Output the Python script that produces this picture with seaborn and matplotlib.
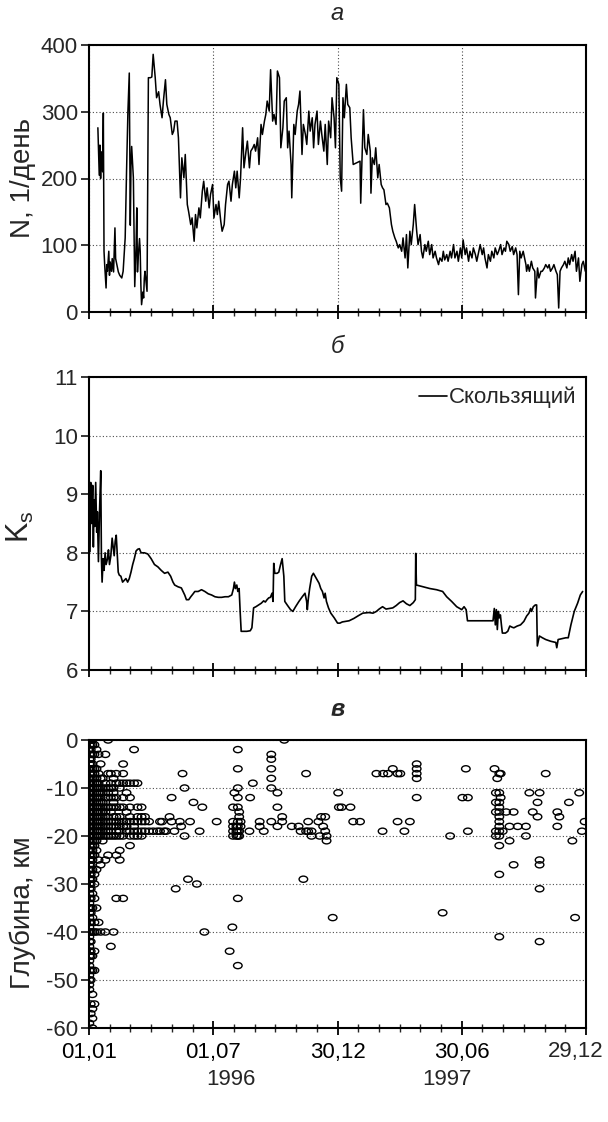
import numpy as np
import pandas as pd
import matplotlib
matplotlib.use("Agg")
import matplotlib.pyplot as plt
import seaborn as sns
from matplotlib.path import Path
from matplotlib.ticker import FixedLocator, FixedFormatter
from matplotlib.transforms import blended_transform_factory, ScaledTranslation

# ---------------- data ----------------
# panel a: daily number of events N (day from 01.01.1996)
n_day = [13, 15, 16, 17, 18, 20, 21, 22, 23, 25, 26, 27, 29, 30, 31, 33, 34, 36, 38, 39,
         41, 43, 45, 48, 50, 53, 55, 57, 59, 60.5, 61.5, 62.5, 65, 66, 67, 69, 70, 71, 72, 74,
         75, 76, 77, 79, 80, 81, 82, 84, 85, 86, 87, 90, 92, 94, 97, 99, 102, 104, 107, 109,
         112, 114, 117, 119, 122, 124, 126, 129, 131, 134, 136, 139, 141, 144, 146, 149, 151, 154, 156, 158,
         161, 163, 166, 168, 171, 173, 176, 178, 181, 183, 186, 188, 190, 193, 195, 198, 200, 203, 205, 208,
         210, 213, 215, 217, 220, 222, 225, 227, 230, 232, 235, 237, 240,
         242, 244, 247, 249, 252, 254, 257, 259, 261, 264, 266, 269, 271, 274, 276, 279, 281, 284, 286, 289,
         291, 293, 296, 297, 300, 302, 305, 307, 309, 312, 314, 317, 319, 322, 324, 327, 329, 331, 334, 336,
         339, 341, 344, 346, 349, 351, 354, 356, 359, 361, 363, 366, 368, 370, 372, 374, 377, 379, 382, 384,
         387, 397, 398, 402, 404, 407, 409, 412, 413, 415, 418, 420, 423, 425, 428, 430, 432, 435, 437, 440,
         443, 445, 448, 450, 453, 455, 458, 460, 463, 465, 467, 470, 472, 475, 477, 480, 482, 485,
         487, 489, 492, 494, 497, 499, 502, 504, 507, 509, 512, 514, 517, 519, 521, 524, 526, 529, 531, 534,
         536, 539, 541, 544, 546, 548, 551, 553, 556, 558, 561, 563, 566, 568, 571, 573, 576, 578, 580, 583,
         585, 588, 590, 593, 595, 598, 600, 603, 605, 608, 610, 612, 615, 617, 620, 622, 625, 627, 629, 631,
         633, 636, 638, 640, 641, 643, 645, 648, 650, 653, 654, 657, 659, 662, 664, 667, 669, 672, 674, 676,
         679, 681, 684, 686, 688, 690, 692, 695, 697, 700, 702, 704, 707, 709, 712, 714, 717, 719, 722, 724, 727]
n_val = [276, 205, 250, 200, 240, 210, 298, 91, 70, 36, 71, 61, 91, 55, 75, 61, 80, 60, 126, 80,
         70, 60, 55, 51, 61, 111, 211, 300, 358, 130, 220, 248, 201, 120, 38, 100, 156, 60, 81, 110,
         91, 40, 11, 30, 21, 50, 61, 40, 31, 200, 351, 351, 352, 386, 351, 321, 330, 311, 291, 316,
         348, 311, 296, 291, 266, 271, 286, 286, 261, 171, 231, 201, 236, 161, 150, 131, 141, 106, 146, 126,
         156, 141, 181, 196, 166, 186, 156, 176, 191, 141, 161, 146, 166, 136, 121, 131, 161, 191, 196, 166,
         191, 211, 186, 211, 171, 201, 276, 216, 241, 256, 216, 241, 246,
         251, 241, 261, 221, 281, 266, 286, 296, 316, 301, 363, 286, 296, 281, 361, 351, 246, 276, 316, 321,
         246, 271, 221, 171, 281, 266, 301, 311, 331, 236, 281, 266, 251, 301, 271, 291, 246, 281, 301, 251,
         286, 266, 241, 281, 221, 286, 261, 321, 291, 246, 351, 341, 201, 181, 321, 291, 341, 311, 306, 261,
         221, 226, 163, 303, 246, 236, 266, 241, 178, 231, 221, 246, 201, 221, 191, 186, 183, 161, 163, 156,
         131, 121, 111, 106, 96, 101, 91, 111, 81, 116, 66, 121, 101, 131, 161, 121, 101, 116,
         91, 81, 101, 91, 106, 86, 101, 81, 91, 81, 71, 81, 76, 91, 78, 86, 76, 91, 81, 101,
         81, 91, 76, 96, 81, 108, 86, 96, 76, 91, 81, 96, 86, 76, 91, 101, 86, 96, 81, 66,
         86, 76, 91, 81, 96, 86, 91, 101, 86, 96, 91, 106, 101, 91, 98, 86, 96, 86, 26, 91,
         81, 91, 81, 71, 61, 71, 61, 76, 66, 61, 21, 66, 51, 61, 61, 66, 71, 66, 71, 61,
         66, 71, 61, 56, 6, 61, 66, 71, 76, 66, 81, 71, 86, 76, 91, 61, 81, 46, 71, 76, 61]

# panel b: sliding K_s
ks_day = [1.5, 2.5, 3.9, 5.4, 6.4, 7.4, 8.4, 9.8, 11.3, 12.3,
          13.8, 15.3, 17.2, 18.2, 19.2, 20.7, 22.1, 23.6, 25.1, 27.1,
          28.5, 30.0, 32.0, 33.9, 35.4, 36.9, 38.4, 39.9, 41.3, 42.8,
          44.3, 46.7, 49.2, 51.7, 54.1, 56.6, 59.0, 61.5, 64.0, 66.4,
          68.9, 71.3, 73.8, 76.3, 81.2, 86.1, 91.0, 95.9, 100.9, 105.8,
          110.7, 115.6, 119.6, 123.0, 125.5, 130.4, 135.3, 137.8, 140.2, 142.7,
          146.1, 149.1, 152.5, 155.0, 159.9, 164.8, 169.7, 174.7, 179.6, 184.5,
          189.4, 194.3, 199.3, 204.2, 209.1, 211.6, 213.0, 214.5, 216.5, 218.0,
          219.9, 221.4, 222.9, 226.3, 231.2, 236.2, 238.6, 241.1, 244.5, 248.5,
          252.4, 255.8, 258.3, 260.8, 263.2, 265.7, 268.1, 269.6, 270.6, 272.1,
          275.5, 278.0, 280.4, 282.9, 285.4, 286.8, 290.3, 295.2, 298.6, 302.6,
          307.5, 312.4, 316.4, 318.8, 319.8, 321.3, 323.2, 326.2, 328.7, 331.1,
          334.6, 337.0, 339.5, 341.9, 344.4, 345.9, 347.8, 350.8, 354.2, 359.2,
          364.1, 367.5, 371, 381, 388, 395, 401, 410, 416, 421,
          425, 430, 435, 440, 445, 450, 455, 460, 465, 470,
          475, 478, 478.6, 479.6, 489.4, 499.3, 509.1, 518.0, 523.9, 531.2,
          538.6, 546.0, 549.4, 552.4, 554.4, 558.3, 568.1, 578.0, 587.8, 591.8,
          593.7, 595.2, 596.7, 598.1, 599.6, 601.1, 602.6, 604.1, 605.5, 610.0,
          613.4, 616.4, 619.8, 622.3, 627.2, 632.1, 637.0, 641.0, 644.4, 646.9,
          648.3, 650.8, 653.7, 655.7, 656.7, 659.7, 664.1, 669.0, 676.4, 683.8,
          685.2, 687.2, 691.1, 698.5, 702.0, 705.9, 710.8, 715.7, 719.7, 723.1]
ks_val = [8.02, 9.2, 8.5, 9.15, 8.1, 8.9, 8.45, 9.2, 8.35, 8.7,
          7.85, 8.65, 9.4, 7.9, 7.5, 7.9, 7.7, 8.0, 7.8, 7.9,
          8.05, 7.8, 7.95, 8.25, 8.1, 7.95, 8.2, 8.3, 8.0, 7.67,
          7.62, 7.6, 7.5, 7.53, 7.56, 7.5, 7.56, 7.67, 7.8, 7.9,
          8.03, 8.06, 8.07, 8.0, 8.0, 7.98, 7.9, 7.8, 7.76, 7.7,
          7.65, 7.67, 7.6, 7.5, 7.45, 7.42, 7.4, 7.34, 7.28, 7.2,
          7.2, 7.25, 7.3, 7.34, 7.34, 7.37, 7.34, 7.3, 7.28, 7.25,
          7.24, 7.24, 7.25, 7.25, 7.28, 7.39, 7.5, 7.39, 7.45, 7.34,
          7.39, 7.0, 6.66, 6.66, 6.66, 6.67, 6.72, 7.06, 7.08, 7.11,
          7.14, 7.18, 7.16, 7.2, 7.23, 7.24, 7.31, 7.17, 7.82, 7.65,
          7.65, 7.67, 7.79, 7.9, 7.6, 7.17, 7.11, 7.03, 7.0, 7.08,
          7.17, 7.25, 7.31, 7.17, 7.03, 7.22, 7.39, 7.6, 7.65, 7.6,
          7.53, 7.48, 7.39, 7.34, 7.23, 7.31, 7.17, 7.06, 6.97, 6.89,
          6.8, 6.8, 6.82, 6.84, 6.88, 6.93, 6.97, 6.98, 6.97, 7.0,
          7.04, 7.08, 7.04, 7.05, 7.06, 7.1, 7.15, 7.18, 7.13, 7.1,
          7.15, 7.2, 7.99, 7.45, 7.42, 7.39, 7.37, 7.34, 7.25, 7.17,
          7.08, 7.03, 7.08, 7.03, 6.84, 6.84, 6.84, 6.84, 6.84, 6.84,
          7.05, 6.77, 7.03, 6.69, 7.0, 6.89, 6.94, 6.77, 6.63, 6.63,
          6.66, 6.75, 6.73, 6.72, 6.75, 6.77, 6.83, 6.92, 6.97, 7.05,
          7.0, 7.08, 7.11, 7.11, 6.41, 6.58, 6.55, 6.52, 6.49, 6.47,
          6.38, 6.52, 6.53, 6.55, 6.55, 6.77, 7.0, 7.14, 7.28, 7.34]

# panel c: hypocentre depths, grouped by day
eq_group_day = [0.5, 2.5, 5, 8, 11, 14, 17, 20, 24, 28, 32, 36, 40, 45, 50, 55, 60, 66, 71, 77,
                82, 88, 94, 100, 104, 107, 110, 113, 118, 121, 125, 127, 133, 135, 137, 140, 145, 148,
                153, 158, 162, 166, 169, 187, 206, 210, 211, 213, 216, 218, 220, 222,
                235, 236, 240, 250, 256, 267, 276, 283, 286, 297, 307, 310, 314, 318, 321, 326,
                336, 338, 340, 343, 346, 348, 357, 365, 366, 370, 383, 387, 397, 421, 430, 431, 438, 445,
                452, 456, 462, 470, 480, 518, 529, 547, 552, 555, 594, 596, 598, 601, 603, 606, 611,
                616, 622, 628, 640, 645, 650, 657, 660, 669, 686, 689, 703, 708, 712, 718, 722, 726]
eq_group_depth = [
    [0, -1, -2, -3, -4, -5, -6, -7, -8, -9, -10, -11, -12, -13, -14, -15, -16, -17, -18, -19, -20,
     -21, -22, -23, -24, -25, -26, -27, -28, -29, -30, -31, -32, -33, -34, -35, -36, -37, -38, -39,
     -40, -41, -42, -43, -44, -45, -46, -47, -48, -49, -50, -51, -52, -59],
    [0, -1, -2, -3, -4, -5, -6, -7, -8, -9, -10, -11, -12, -13, -14, -15, -16, -17, -18, -19, -20,
     -21, -22, -23, -24, -25, -26, -27, -28, -29, -30, -31, -33, -35, -36, -38, -40, -42, -44, -45,
     -48, -50, -55, -57],
    [0, -1, -3, -5, -6, -7, -8, -9, -10, -11, -12, -13, -14, -15, -16, -17, -18, -19, -20, -21, -22,
     -23, -24, -25, -27, -29, -32, -35, -37, -40, -45, -48, -53, -56, -58, -60],
    [-1, -3, -6, -7, -8, -9, -10, -11, -12, -13, -14, -15, -16, -17, -18, -19, -20, -21, -22, -24,
     -28, -30, -33, -38, -40, -44, -48, -55],
    [-2, -6, -8, -9, -10, -11, -12, -13, -14, -15, -16, -17, -18, -19, -20, -21, -23, -27, -35, -40],
    [-3, -7, -9, -10, -11, -12, -13, -14, -15, -16, -17, -18, -19, -20, -25, -38],
    [-5, -8, -10, -11, -12, -13, -14, -15, -16, -17, -18, -19, -20, -26, -40],
    [-8, -10, -11, -13, -14, -15, -16, -17, -18, -19, -20, -21],
    [-3, -9, -10, -12, -14, -15, -16, -17, -18, -19, -20, -25, -40],
    [0, -7, -10, -11, -12, -14, -16, -17, -18, -19, -20, -24],
    [-7, -9, -10, -12, -14, -15, -17, -18, -19, -20, -43],
    [-8, -10, -11, -12, -13, -14, -16, -17, -18, -20, -40],
    [-7, -9, -12, -14, -16, -17, -18, -19, -20, -24, -33],
    [-9, -10, -14, -16, -17, -18, -19, -20, -23, -25],
    [-5, -7, -9, -12, -14, -17, -18, -20, -33],
    [-9, -11, -15, -17, -18, -19],
    [-9, -12, -14, -16, -17, -19, -20, -22],
    [-2, -9, -17, -18, -19, -20],
    [-9, -14, -16, -17, -19, -20],
    [-14, -16, -17, -19, -20],
    [-16, -17, -19],
    [-17, -19],
    [-19],
    [-19], [-17, -19], [-17], [-19], [-19], [-16], [-12, -17], [-19], [-31], [-17], [-18], [-7],
    [-10, -20], [-29], [-17], [-13], [-30], [-19], [-14], [-40], [-17],
    [-44], [-39], [-14, -17, -18, -19, -20], [-11], [-18, -19, -20],
    [-2, -6, -10, -12, -14, -17, -18, -19, -20, -33, -47], [-15, -16, -19, -20], [-17, -18],
    [-19], [-12], [-9], [-17, -18], [-19], [-3, -4, -6, -8, -10, -17], [-11, -14, -18], [-16, -17],
    [0], [-18], [-18], [-19], [-29], [-7, -19], [-17, -19], [-19, -20],
    [-17], [-20], [-16], [-18], [-16, -19], [-20, -21], [-37], [-11], [-14], [-14], [-14], [-17],
    [-17], [-7], [-19], [-7], [-7], [-6], [-7, -17], [-7], [-19], [-17], [-5, -6, -7, -8, -12],
    [-36], [-20], [-12], [-6], [-12, -19], [-6], [-11, -13, -15, -19, -20], [-8],
    [-7, -11, -13, -14, -15, -16, -17, -18, -19, -20, -22, -28, -41], [-7, -12], [-19],
    [-15], [-18, -21], [-15, -26], [-18], [-18, -20], [-11], [-15], [-13, -16], [-11, -25, -26, -31, -42],
    [-7], [-15, -18], [-16], [-13], [-21], [-37], [-11], [-19], [-17]]

x_major = [0, 182, 364, 546, 728]
x_labels = ["01,01", "01,07", "30,12", "30,06", "29,12"]
year_labels = ["1996", "1997"]
year_pos = [208, 525]

# ---------------- figure ----------------
sns.set_theme(style="ticks")
plt.rcParams["font.family"] = ["Liberation Sans", "DejaVu Sans"]
plt.rcParams["mathtext.default"] = "regular"
plt.rcParams["axes.unicode_minus"] = False

FS = 16
FL = 20
fig = plt.figure(figsize=(6.08, 11.22), dpi=100)
W, H = 608, 1122
L, R = 89, 586
ax1 = fig.add_axes([L / W, 1 - 312 / H, (R - L) / W, 267 / H])
ax2 = fig.add_axes([L / W, 1 - 670 / H, (R - L) / W, 293 / H])
ax3 = fig.add_axes([L / W, 1 - 1028 / H, (R - L) / W, 288 / H])

df_n = pd.DataFrame({"day": n_day, "N": n_val})
df_k = pd.DataFrame({"day": ks_day, "Ks": ks_val})
eq_day, eq_depth = [], []
for d, deps in zip(eq_group_day, eq_group_depth):
    for z in deps:
        eq_day.append(d)
        eq_depth.append(z)
df_eq = pd.DataFrame({"day": eq_day, "depth": eq_depth})

sns.lineplot(data=df_n, x="day", y="N", ax=ax1, color="black", lw=1.1,
             estimator=None, sort=False)
sns.lineplot(data=df_k, x="day", y="Ks", ax=ax2, color="black", lw=1.2,
             estimator=None, sort=False, label="Скользящий")
circ = Path.unit_circle()
ell = Path(circ.vertices * np.array([1.0, 0.72]), circ.codes)
sns.scatterplot(data=df_eq, x="day", y="depth", ax=ax3, marker=ell, s=38,
                facecolor="none", edgecolor="black", linewidth=1.0, zorder=3)

minor = list(np.arange(0, 729, 182 / 6))
for ax in (ax1, ax2, ax3):
    ax.set_xlim(0, 728)
    ax.xaxis.set_major_locator(FixedLocator(x_major))
    ax.xaxis.set_minor_locator(FixedLocator(minor))
    ax.tick_params(axis="x", which="major", direction="inout", length=10, width=1.3,
                   labelsize=FS, colors="black")
    ax.tick_params(axis="x", which="minor", direction="inout", length=6, width=1.0)
    ax.tick_params(axis="y", which="major", direction="out", length=6, width=1.3,
                   labelsize=FS, pad=2)
    for sp in ax.spines.values():
        sp.set_visible(True)
        sp.set_linewidth(1.5)
        sp.set_color("black")
    ax.set_xlabel("")
    ax.yaxis.grid(True, linestyle=(0, (1, 2)), color="0.3", linewidth=0.8)
    ax.set_axisbelow(True)

ax1.set_xticklabels([])
ax2.set_xticklabels([])
ax3.xaxis.set_major_formatter(FixedFormatter(x_labels[:-1] + [""]))
ax3.tick_params(axis="x", which="major", pad=5)
tr = blended_transform_factory(ax3.transData, ax3.transAxes)
ax3.text(x_major[-1], -0.083, x_labels[-1], fontsize=FS, ha="center", va="center",
         transform=tr + ScaledTranslation(-0.10, 0, fig.dpi_scale_trans))

ax1.set_ylim(0, 400)
ax1.set_yticks([0, 100, 200, 300, 400])
ax1.xaxis.grid(True, linestyle=(0, (1, 2)), color="0.3", linewidth=0.8)
ax2.set_ylim(6, 11)
ax2.set_yticks([6, 7, 8, 9, 10, 11])
ax3.set_ylim(-60, 0)
ax3.set_yticks([0, -10, -20, -30, -40, -50, -60])

ax1.set_ylabel("N, 1/день", fontsize=FL)
ax2.set_ylabel("K$_s$", fontsize=FL + 2)
ax3.set_ylabel("Глубина, км", fontsize=FL)
ax1.yaxis.set_label_coords(-0.106, 0.5)
ax2.yaxis.set_label_coords(-0.106, 0.49)
ax3.yaxis.set_label_coords(-0.106, 0.40)

ax1.set_title("а", fontsize=FS + 1, style="italic", pad=18)
ax2.set_title("б", fontsize=FS + 1, style="italic", pad=17)
ax3.set_title("в", fontsize=FS + 1, style="italic", weight="bold", pad=17)

leg = ax2.legend(loc="upper right", frameon=False, fontsize=FS, handlelength=1.3,
                 handletextpad=0.05, borderaxespad=0.05)

for lab, xp in zip(year_labels, year_pos):
    ax3.text(xp, -0.18, lab, transform=tr, ha="center", va="center", fontsize=FS)

fig.savefig("out.png", dpi=100, facecolor="white")
